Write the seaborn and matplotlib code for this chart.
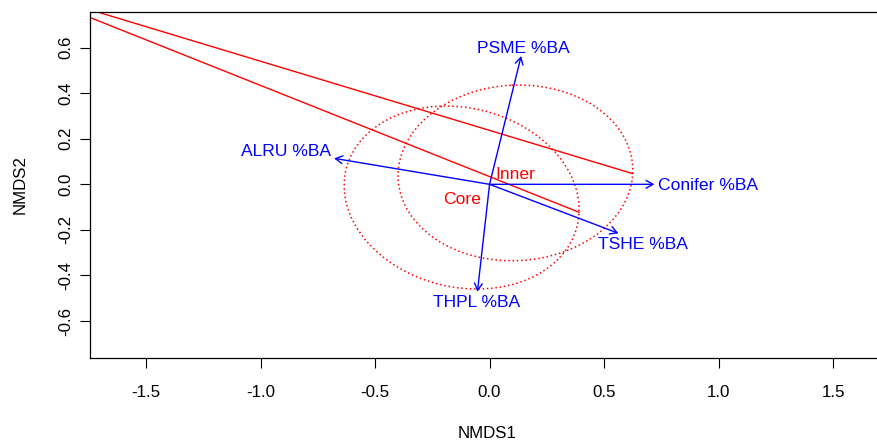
import numpy as np
import pandas as pd
import matplotlib
matplotlib.use("Agg")
import matplotlib.pyplot as plt
from matplotlib.patches import Ellipse
import seaborn as sns

# Fitted species vectors (arrow heads in NMDS space)
vector_names = ["PSME %BA", "ALRU %BA", "Conifer %BA", "TSHE %BA", "THPL %BA"]
vector_nmds1 = [0.138, -0.679, 0.720, 0.563, -0.053]
vector_nmds2 = [0.563, 0.114, 0.000, -0.215, -0.471]

# Stand groups: centroids and dispersion (sd ellipse covariance)
group_names = ["Core", "Inner"]
group_nmds1 = [-0.122, 0.113]
group_nmds2 = [-0.058, 0.050]
group_var1 = [0.2633, 0.2628]
group_var2 = [0.1611, 0.1486]
group_cov12 = [-0.0270, 0.0060]

# Two-site group outlines joining the outlying plot
link_id = ["Core", "Core", "Inner", "Inner"]
link_nmds1 = [-2.098, 0.392, -2.098, 0.625]
link_nmds2 = [0.873, -0.123, 0.873, 0.047]

x_ticks = [-1.5, -1.0, -0.5, 0.0, 0.5, 1.0, 1.5]
y_ticks = [-0.6, -0.4, -0.2, 0.0, 0.2, 0.4, 0.6]

sns.set_theme(style="white")
plt.rcParams["font.family"] = ["Liberation Sans", "DejaVu Sans"]
plt.rcParams["axes.unicode_minus"] = False

W, H, DPI = 878, 445, 100
fig = plt.figure(figsize=(W / DPI, H / DPI), dpi=DPI)
ax_left, ax_right, ax_top, ax_bottom = 90, 885, 12, 358
ax = fig.add_axes([ax_left / W, 1 - ax_bottom / H,
                   (ax_right - ax_left) / W, (ax_bottom - ax_top) / H])
ax.set_xlim(-1.745, 1.727)
ax.set_ylim(-0.762, 0.756)

red = "#FF0000"
blue = "#0000FF"
txt_size = 12.6
axis_size = 12.2

# group outline segments
links = pd.DataFrame({"id": link_id, "NMDS1": link_nmds1, "NMDS2": link_nmds2})
sns.lineplot(data=links, x="NMDS1", y="NMDS2", units="id", estimator=None,
             sort=False, color=red, lw=1.0, ax=ax, legend=False)

# dispersion ellipses
for name, cx, cy, v1, v2, c12 in zip(group_names, group_nmds1, group_nmds2,
                                     group_var1, group_var2, group_cov12):
    vals, vecs = np.linalg.eigh(np.array([[v1, c12], [c12, v2]]))
    angle = np.degrees(np.arctan2(vecs[1, 1], vecs[0, 1]))
    ax.add_patch(Ellipse((cx, cy), 2 * np.sqrt(vals[1]), 2 * np.sqrt(vals[0]),
                         angle=angle, fill=False, edgecolor=red, lw=1.1,
                         linestyle=(0, (1, 1.8))))
    ax.text(cx, cy, name, color=red, fontsize=txt_size, ha="center",
            va="center_baseline")

# species vectors
for vx, vy in zip(vector_nmds1, vector_nmds2):
    ax.annotate("", xy=(vx, vy), xytext=(0, 0),
                arrowprops=dict(arrowstyle="->,head_length=0.5,head_width=0.28",
                                color=blue, lw=1.0, shrinkA=0, shrinkB=0,
                                mutation_scale=10))

# vector labels placed beyond the arrow heads, clear of the arrows
fig.canvas.draw()
renderer = fig.canvas.get_renderer()
to_disp = ax.transData
to_data = ax.transData.inverted()
cap_h = 0.716 * txt_size * DPI / 72
for name, vx, vy in zip(vector_names, vector_nmds1, vector_nmds2):
    t = ax.text(vx, vy, name, color=blue, fontsize=txt_size, ha="center",
                va="center_baseline")
    w = t.get_window_extent(renderer).width
    px, py = to_disp.transform((vx, vy))
    ox, oy = to_disp.transform((0, 0))
    dx, dy = px - ox, py - oy
    off_x = np.sign(dx) * (w / 2 + cap_h / 4)
    off_y = 0.75 * cap_h * np.sign(dy)
    b = dy / dx if dx != 0 else np.inf
    move = off_y / b if np.isfinite(b) and b != 0 else np.inf
    if np.isfinite(move) and abs(move) <= abs(off_x):
        off_x = move
    else:
        off_y = b * off_x
    t.set_position(to_data.transform((px + off_x, py + off_y)))

ax.set_xticks(x_ticks)
ax.set_xticklabels([f"{v:.1f}" for v in x_ticks])
ax.set_yticks(y_ticks)
ax.set_yticklabels([f"{v:.1f}" for v in y_ticks], rotation=90, va="center")
ax.tick_params(axis="both", which="major", direction="out", length=7.2, width=0.8,
               colors="black", labelsize=axis_size)
ax.tick_params(axis="x", pad=12.5, bottom=True)
ax.tick_params(axis="y", pad=4.5, left=True)

for side in ["left", "top", "bottom", "right"]:
    ax.spines[side].set_color("black")
    ax.spines[side].set_linewidth(0.9)

ax.set_xlabel("NMDS1", fontsize=axis_size, color="black")
ax.set_ylabel("NMDS2", fontsize=axis_size, color="black")
axw = ax_right - ax_left
axh = ax_bottom - ax_top
ax.xaxis.set_label_coords((487.5 - ax_left) / axw, -(426 - ax_bottom) / axh)
ax.yaxis.set_label_coords((27.5 - ax_left) / axw, (ax_bottom - 185) / axh)

fig.savefig("out.png", dpi=DPI)
